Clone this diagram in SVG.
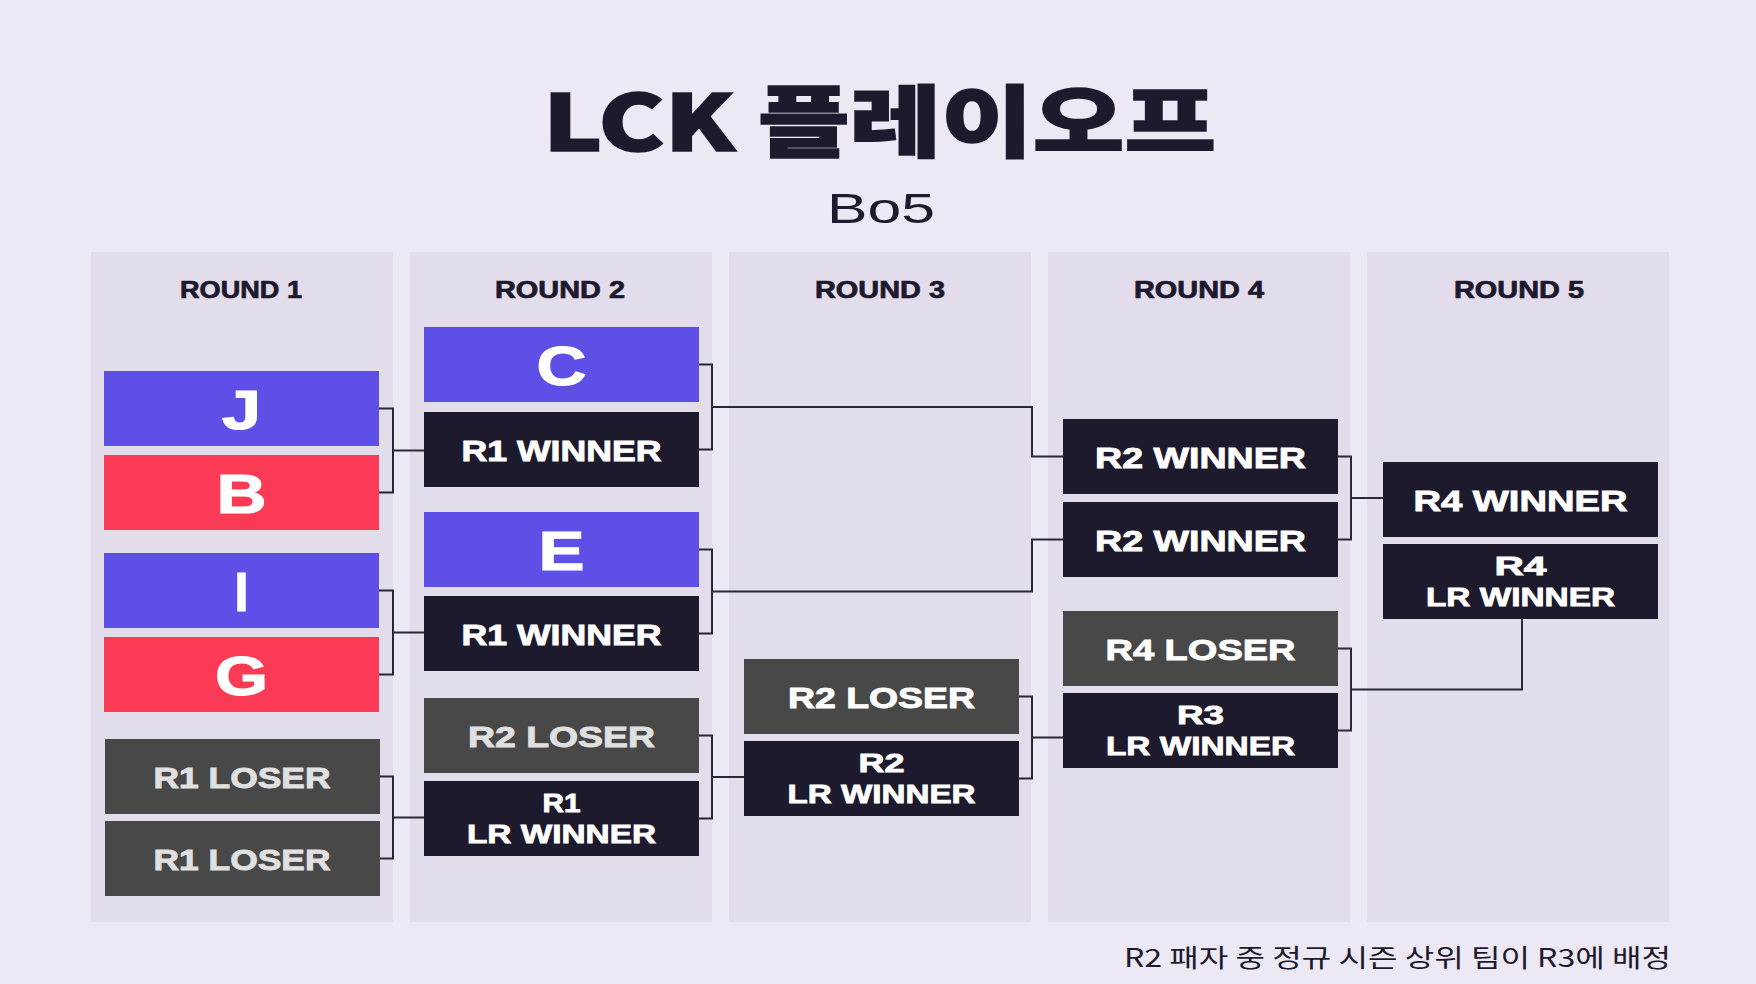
<svg xmlns="http://www.w3.org/2000/svg" width="1756" height="984" viewBox="0 0 1756 984">
<style>
.bg{fill:#ECE9F5}
.panel{fill:#E3DDEB}
.blue{fill:#5E4FE6}
.red{fill:#FB3A55}
.dark{fill:#1E1A2E}
.grey{fill:#484848}
.rl{font-family:"Liberation Sans",Arial,sans-serif;font-weight:bold;font-size:23px;fill:#1E1A2E;stroke:#1E1A2E;stroke-width:0.7;text-anchor:middle}
.big{font-family:"Liberation Sans",Arial,sans-serif;font-weight:bold;font-size:56px;fill:#FFFFFF;stroke:#FFFFFF;stroke-width:1.2;text-anchor:middle}
.lb{font-family:"Liberation Sans",Arial,sans-serif;font-weight:bold;font-size:30px;fill:#FFFFFF;stroke:#FFFFFF;stroke-width:0.9;text-anchor:middle}
.lb2{font-family:"Liberation Sans",Arial,sans-serif;font-weight:bold;font-size:25px;fill:#FFFFFF;stroke:#FFFFFF;stroke-width:0.8;text-anchor:middle}
.lg{fill:#E0E0E0;stroke:#E0E0E0}
.conn{fill:none;stroke:#2A2638;stroke-width:2}
</style>
<rect class="bg" x="0" y="0" width="1756" height="984"/>
<g id="title">
<text x="543" y="151" textLength="673" lengthAdjust="spacingAndGlyphs" style="font-family:'Noto Sans CJK KR','Liberation Sans',sans-serif;font-weight:900;font-size:78px;fill:#1E1A2E;stroke:#1E1A2E;stroke-width:1.5">LCK 플레이오프</text>
<text x="827" y="223" textLength="108" lengthAdjust="spacingAndGlyphs" style="font-family:'Liberation Sans',Arial,sans-serif;font-size:43px;fill:#1E1A2E">Bo5</text>
</g>
<g id="panels">
<rect class="panel" x="91" y="252" width="302" height="670"/>
<rect class="panel" x="410" y="252" width="302" height="670"/>
<rect class="panel" x="729" y="252" width="302" height="670"/>
<rect class="panel" x="1048" y="252" width="302" height="670"/>
<rect class="panel" x="1367" y="252" width="302" height="670"/>
<text class="rl" x="241" y="298" textLength="122" lengthAdjust="spacingAndGlyphs">ROUND 1</text>
<text class="rl" x="560" y="298" textLength="130" lengthAdjust="spacingAndGlyphs">ROUND 2</text>
<text class="rl" x="880" y="298" textLength="130" lengthAdjust="spacingAndGlyphs">ROUND 3</text>
<text class="rl" x="1199" y="298" textLength="130" lengthAdjust="spacingAndGlyphs">ROUND 4</text>
<text class="rl" x="1519" y="298" textLength="130" lengthAdjust="spacingAndGlyphs">ROUND 5</text>
</g>
<g id="connectors">
<path class="conn" d="M379,408.5 H393 V492.5 H379 M393,450.5 H424"/>
<path class="conn" d="M379,590.5 H393 V674.5 H379 M393,632.5 H424"/>
<path class="conn" d="M380,776.5 H393 V858.5 H380 M393,817.5 H424"/>
<path class="conn" d="M699,364.5 H712 V449.5 H699 M712,407 H1032 V456.5 H1063"/>
<path class="conn" d="M699,549.5 H712 V633.5 H699 M712,591.5 H1032 V539.5 H1063"/>
<path class="conn" d="M699,735.5 H712 V818.5 H699 M712,777 H744"/>
<path class="conn" d="M1019,696.5 H1032 V778.5 H1019 M1032,737.5 H1063"/>
<path class="conn" d="M1338,456.5 H1351 V539.5 H1338 M1351,498 H1383"/>
<path class="conn" d="M1338,648.5 H1351 V730.5 H1338 M1351,689.5 H1522 V619"/>
</g>
<g id="r1-j"><rect class="blue" x="104" y="371" width="275" height="75"/><text class="big" x="241.5" y="428.5" textLength="39" lengthAdjust="spacingAndGlyphs">J</text></g>
<g id="r1-b"><rect class="red" x="104" y="455" width="275" height="75"/><text class="big" x="241.5" y="512.5" textLength="50" lengthAdjust="spacingAndGlyphs">B</text></g>
<g id="r1-i"><rect class="blue" x="104" y="553" width="275" height="75"/><text class="big" x="241.5" y="610.5" textLength="14" lengthAdjust="spacingAndGlyphs">I</text></g>
<g id="r1-g"><rect class="red" x="104" y="637" width="275" height="75"/><text class="big" x="241.5" y="694.5" textLength="53" lengthAdjust="spacingAndGlyphs">G</text></g>
<g id="r1-loser-a"><rect class="grey" x="105" y="739" width="275" height="75"/><text class="lb lg" x="242" y="787.5" textLength="177" lengthAdjust="spacingAndGlyphs">R1 LOSER</text></g>
<g id="r1-loser-b"><rect class="grey" x="105" y="821" width="275" height="75"/><text class="lb lg" x="242" y="869.5" textLength="177" lengthAdjust="spacingAndGlyphs">R1 LOSER</text></g>
<g id="r2-c"><rect class="blue" x="424" y="327" width="275" height="75"/><text class="big" x="561.5" y="384.5" textLength="50" lengthAdjust="spacingAndGlyphs">C</text></g>
<g id="r2-winner-a"><rect class="dark" x="424" y="412" width="275" height="75"/><text class="lb" x="561.5" y="461" textLength="200" lengthAdjust="spacingAndGlyphs">R1 WINNER</text></g>
<g id="r2-e"><rect class="blue" x="424" y="512" width="275" height="75"/><text class="big" x="561.5" y="569.5" textLength="46" lengthAdjust="spacingAndGlyphs">E</text></g>
<g id="r2-winner-b"><rect class="dark" x="424" y="596" width="275" height="75"/><text class="lb" x="561.5" y="645" textLength="200" lengthAdjust="spacingAndGlyphs">R1 WINNER</text></g>
<g id="r2-loser"><rect class="grey" x="424" y="698" width="275" height="75"/><text class="lb lg" x="561.5" y="747" textLength="187" lengthAdjust="spacingAndGlyphs">R2 LOSER</text></g>
<g id="r2-lr"><rect class="dark" x="424" y="781" width="275" height="75"/><text class="lb2" x="561.5" y="812" textLength="38" lengthAdjust="spacingAndGlyphs">R1</text><text class="lb2" x="561.5" y="843" textLength="189" lengthAdjust="spacingAndGlyphs">LR WINNER</text></g>
<g id="r3-loser"><rect class="grey" x="744" y="659" width="275" height="75"/><text class="lb" x="881.5" y="708" textLength="187" lengthAdjust="spacingAndGlyphs">R2 LOSER</text></g>
<g id="r3-lr"><rect class="dark" x="744" y="741" width="275" height="75"/><text class="lb2" x="881.5" y="772" textLength="46" lengthAdjust="spacingAndGlyphs">R2</text><text class="lb2" x="881.5" y="803" textLength="188" lengthAdjust="spacingAndGlyphs">LR WINNER</text></g>
<g id="r4-winner-a"><rect class="dark" x="1063" y="419" width="275" height="75"/><text class="lb" x="1200.5" y="468" textLength="211" lengthAdjust="spacingAndGlyphs">R2 WINNER</text></g>
<g id="r4-winner-b"><rect class="dark" x="1063" y="502" width="275" height="75"/><text class="lb" x="1200.5" y="551" textLength="211" lengthAdjust="spacingAndGlyphs">R2 WINNER</text></g>
<g id="r4-loser"><rect class="grey" x="1063" y="611" width="275" height="75"/><text class="lb" x="1200.5" y="660" textLength="190" lengthAdjust="spacingAndGlyphs">R4 LOSER</text></g>
<g id="r4-lr"><rect class="dark" x="1063" y="693" width="275" height="75"/><text class="lb2" x="1200.5" y="724" textLength="47" lengthAdjust="spacingAndGlyphs">R3</text><text class="lb2" x="1200.5" y="755" textLength="189" lengthAdjust="spacingAndGlyphs">LR WINNER</text></g>
<g id="r5-winner"><rect class="dark" x="1383" y="462" width="275" height="75"/><text class="lb" x="1520.5" y="511" textLength="214" lengthAdjust="spacingAndGlyphs">R4 WINNER</text></g>
<g id="r5-lr"><rect class="dark" x="1383" y="544" width="275" height="75"/><text class="lb2" x="1520.5" y="575" textLength="52" lengthAdjust="spacingAndGlyphs">R4</text><text class="lb2" x="1520.5" y="606" textLength="189" lengthAdjust="spacingAndGlyphs">LR WINNER</text></g>
<g id="footnote">
<text x="1124" y="967" textLength="547" lengthAdjust="spacingAndGlyphs" style="font-family:'Noto Sans CJK KR','Liberation Sans',sans-serif;font-size:25px;fill:#1E1A2E">R2 패자 중 정규 시즌 상위 팀이 R3에 배정</text>
</g>
</svg>
